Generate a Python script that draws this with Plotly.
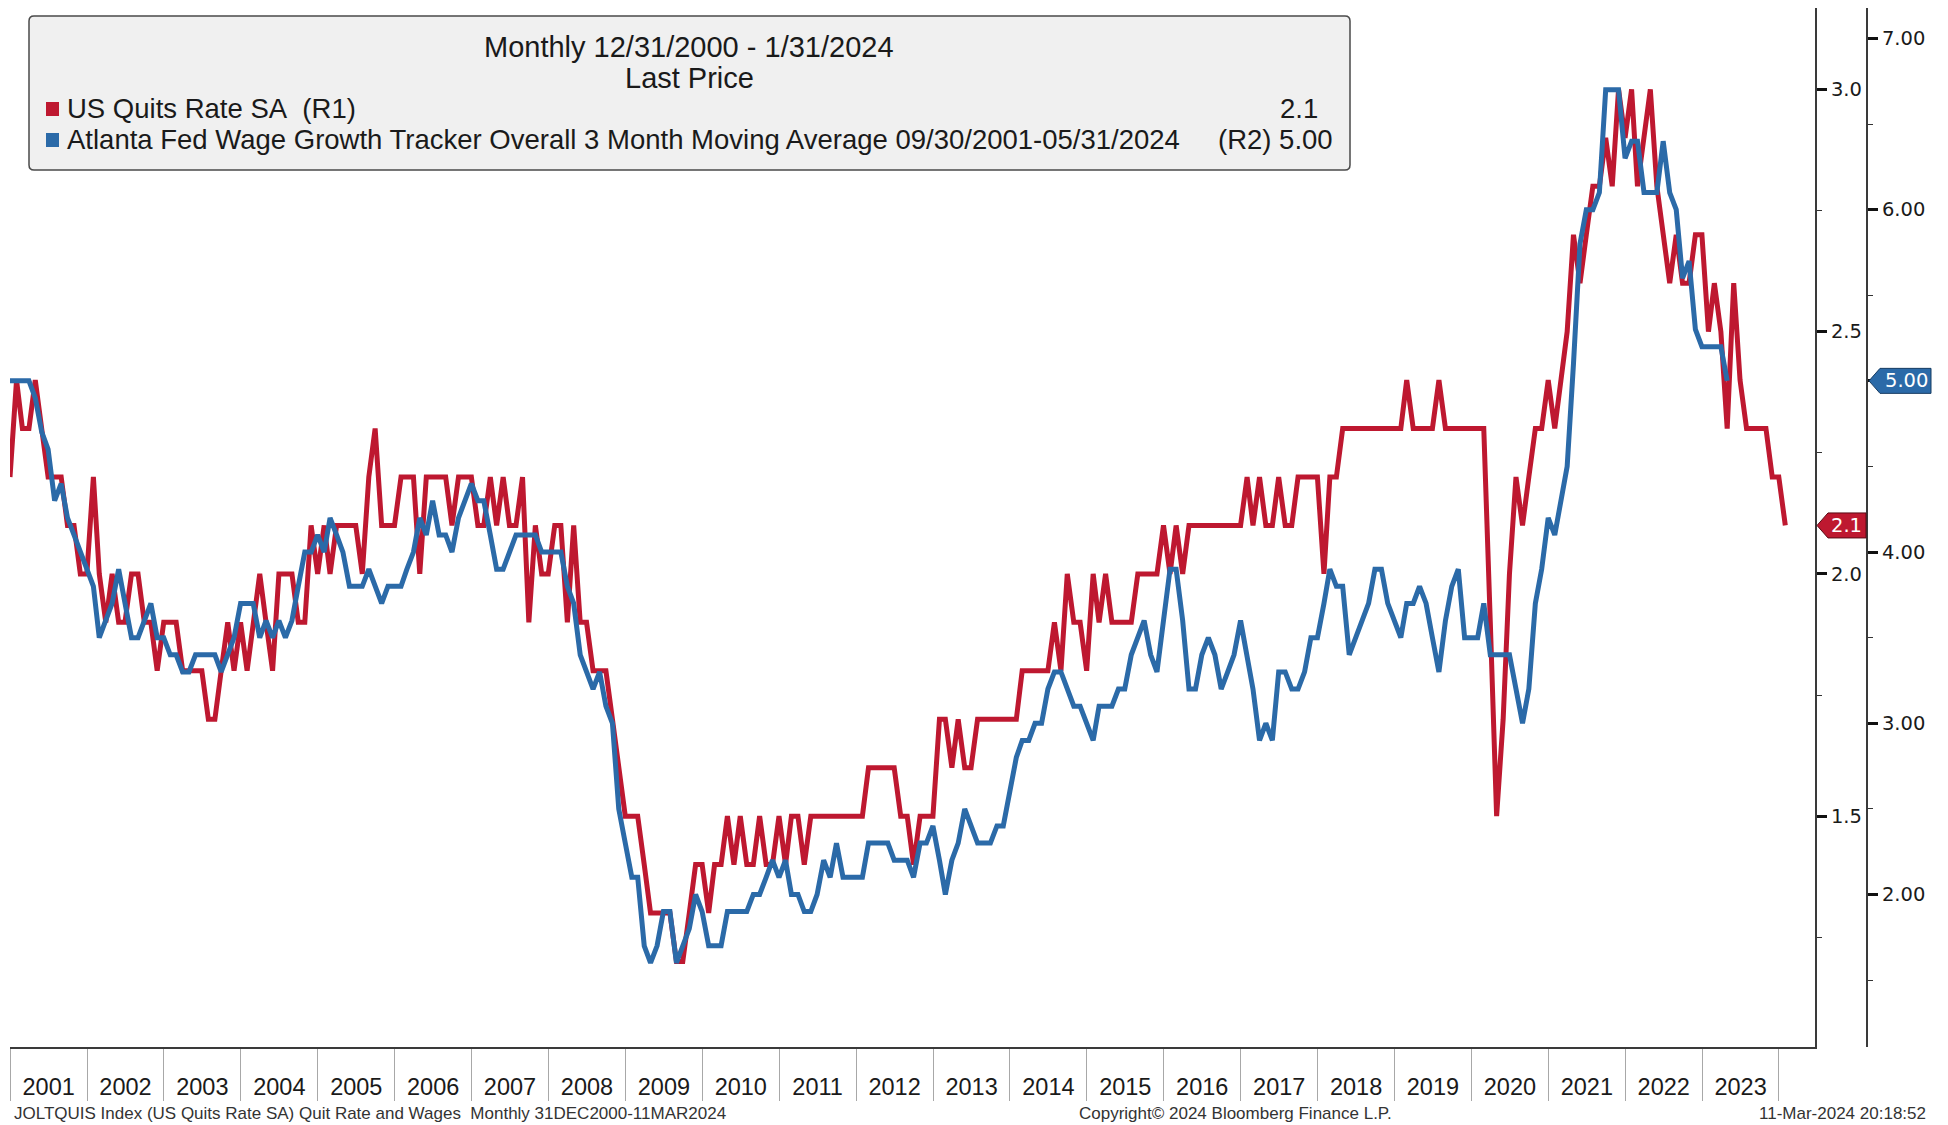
import pandas as pd
import plotly.graph_objects as go

# ---------------- data ----------------
# US Quits Rate SA (R1), monthly, Dec-2000 .. Jan-2024
quits = [
    2.2, 2.4, 2.3, 2.3, 2.4, 2.3, 2.2, 2.2, 2.2, 2.1, 2.1, 2.0, 2.0,   # Dec00-Dec01
    2.2, 2.0, 1.9, 2.0, 1.9, 1.9, 2.0, 2.0, 1.9, 1.9, 1.8, 1.9,        # 2002
    1.9, 1.9, 1.8, 1.8, 1.8, 1.8, 1.7, 1.7, 1.8, 1.9, 1.8, 1.9,        # 2003
    1.8, 1.9, 2.0, 1.9, 1.8, 2.0, 2.0, 2.0, 1.9, 1.9, 2.1, 2.0,        # 2004
    2.1, 2.0, 2.1, 2.1, 2.1, 2.1, 2.0, 2.2, 2.3, 2.1, 2.1, 2.1,        # 2005
    2.2, 2.2, 2.2, 2.0, 2.2, 2.2, 2.2, 2.2, 2.1, 2.2, 2.2, 2.2,        # 2006
    2.1, 2.1, 2.2, 2.1, 2.2, 2.1, 2.1, 2.2, 1.9, 2.1, 2.0, 2.0,        # 2007
    2.1, 2.1, 1.9, 2.1, 1.9, 1.9, 1.8, 1.8, 1.8, 1.7, 1.6, 1.5,        # 2008
    1.5, 1.5, 1.4, 1.3, 1.3, 1.3, 1.3, 1.2, 1.2, 1.3, 1.4, 1.4,        # 2009
    1.3, 1.4, 1.4, 1.5, 1.4, 1.5, 1.4, 1.4, 1.5, 1.4, 1.4, 1.5,        # 2010
    1.4, 1.5, 1.5, 1.4, 1.5, 1.5, 1.5, 1.5, 1.5, 1.5, 1.5, 1.5,        # 2011
    1.5, 1.6, 1.6, 1.6, 1.6, 1.6, 1.5, 1.5, 1.4, 1.5, 1.5, 1.5,        # 2012
    1.7, 1.7, 1.6, 1.7, 1.6, 1.6, 1.7, 1.7, 1.7, 1.7, 1.7, 1.7,        # 2013
    1.7, 1.8, 1.8, 1.8, 1.8, 1.8, 1.9, 1.8, 2.0, 1.9, 1.9, 1.8,        # 2014
    2.0, 1.9, 2.0, 1.9, 1.9, 1.9, 1.9, 2.0, 2.0, 2.0, 2.0, 2.1,        # 2015
    2.0, 2.1, 2.0, 2.1, 2.1, 2.1, 2.1, 2.1, 2.1, 2.1, 2.1, 2.1,        # 2016
    2.2, 2.1, 2.2, 2.1, 2.1, 2.2, 2.1, 2.1, 2.2, 2.2, 2.2, 2.2,        # 2017
    2.0, 2.2, 2.2, 2.3, 2.3, 2.3, 2.3, 2.3, 2.3, 2.3, 2.3, 2.3,        # 2018
    2.3, 2.4, 2.3, 2.3, 2.3, 2.3, 2.4, 2.3, 2.3, 2.3, 2.3, 2.3,        # 2019
    2.3, 2.3, 1.9, 1.5, 1.7, 2.0, 2.2, 2.1, 2.2, 2.3, 2.3, 2.4,        # 2020
    2.3, 2.4, 2.5, 2.7, 2.6, 2.7, 2.8, 2.8, 2.9, 2.8, 3.0, 2.9,        # 2021
    3.0, 2.8, 2.9, 3.0, 2.8, 2.7, 2.6, 2.7, 2.6, 2.6, 2.7, 2.7,        # 2022
    2.5, 2.6, 2.5, 2.3, 2.6, 2.4, 2.3, 2.3, 2.3, 2.3, 2.2, 2.2,        # 2023
    2.1,                                                               # Jan-2024
]

# Atlanta Fed Wage Growth Tracker 3MMA (R2), as plotted (Dec-2000 .. Apr-2023)
wages = [
    5.0, 5.0, 5.0, 5.0, 4.9, 4.7, 4.6, 4.3, 4.4, 4.2, 4.1, 4.0, 3.9,
    3.8, 3.5, 3.6, 3.7, 3.9, 3.7, 3.5, 3.5, 3.6, 3.7, 3.5, 3.5,
    3.4, 3.4, 3.3, 3.3, 3.4, 3.4, 3.4, 3.4, 3.3, 3.4, 3.5, 3.7,
    3.7, 3.7, 3.5, 3.6, 3.5, 3.6, 3.5, 3.6, 3.8, 4.0, 4.0, 4.1,
    4.0, 4.2, 4.1, 4.0, 3.8, 3.8, 3.8, 3.9, 3.8, 3.7, 3.8, 3.8,
    3.8, 3.9, 4.0, 4.2, 4.1, 4.3, 4.1, 4.1, 4.0, 4.2, 4.3, 4.4,
    4.3, 4.3, 4.1, 3.9, 3.9, 4.0, 4.1, 4.1, 4.1, 4.1, 4.0, 4.0,
    4.0, 4.0, 3.8, 3.7, 3.4, 3.3, 3.2, 3.3, 3.1, 3.0, 2.5, 2.3,
    2.1, 2.1, 1.7, 1.6, 1.7, 1.9, 1.9, 1.6, 1.7, 1.8, 2.0, 1.9,
    1.7, 1.7, 1.7, 1.9, 1.9, 1.9, 1.9, 2.0, 2.0, 2.1, 2.2, 2.1,
    2.2, 2.0, 2.0, 1.9, 1.9, 2.0, 2.2, 2.1, 2.3, 2.1, 2.1, 2.1,
    2.1, 2.3, 2.3, 2.3, 2.3, 2.2, 2.2, 2.2, 2.1, 2.3, 2.3, 2.4,
    2.2, 2.0, 2.2, 2.3, 2.5, 2.4, 2.3, 2.3, 2.3, 2.4, 2.4, 2.6,
    2.8, 2.9, 2.9, 3.0, 3.0, 3.2, 3.3, 3.3, 3.2, 3.1, 3.1, 3.0,
    2.9, 3.1, 3.1, 3.1, 3.2, 3.2, 3.4, 3.5, 3.6, 3.4, 3.3, 3.6,
    3.9, 3.9, 3.6, 3.2, 3.2, 3.4, 3.5, 3.4, 3.2, 3.3, 3.4, 3.6,
    3.4, 3.2, 2.9, 3.0, 2.9, 3.3, 3.3, 3.2, 3.2, 3.3, 3.5, 3.5,
    3.7, 3.9, 3.8, 3.8, 3.4, 3.5, 3.6, 3.7, 3.9, 3.9, 3.7, 3.6,
    3.5, 3.7, 3.7, 3.8, 3.7, 3.5, 3.3, 3.6, 3.8, 3.9, 3.5, 3.5,
    3.5, 3.7, 3.4, 3.4, 3.4, 3.4, 3.2, 3.0, 3.2, 3.7, 3.9, 4.2,
    4.1, 4.3, 4.5, 5.1, 5.8, 6.0, 6.0, 6.1, 6.7, 6.7, 6.7, 6.3,
    6.4, 6.4, 6.1, 6.1, 6.1, 6.4, 6.1, 6.0, 5.6, 5.7, 5.3, 5.2,
    5.2, 5.2, 5.2, 5.0,
]

r1_ticks = [1.5, 2.0, 2.5, 3.0]
r1_minor = [1.25, 1.75, 2.25, 2.75]
r2_ticks = [2.0, 3.0, 4.0, 5.0, 6.0, 7.0]
r2_minor = [1.5, 2.5, 3.5, 4.5, 5.5, 6.5]

name_q = "US Quits Rate SA\u00a0\u00a0(R1)"
name_w = "Atlanta Fed Wage Growth Tracker Overall 3 Month Moving Average 09/30/2001-05/31/2024"
last_q = "2.1"
last_w = "5.00"


def month_ends(n):
    ms = pd.date_range("2001-01-01", periods=n, freq="MS") - pd.Timedelta(days=1)
    return [d.strftime("%Y-%m-%d") for d in ms]


dates_q = month_ends(len(quits))
dates_w = month_ends(len(wages))

# ---------------- geometry (page pixels; the page body adds an 8px margin) ----------------
OFF = 8
W, H = 1948 - OFF, 1125 - OFF
# page coordinates of plot frame
L, RAX1, RAX2, TOP, BOT = 10, 1815, 1867, 8, 1047
PW, PH = RAX2 - L, BOT - TOP


def fx(px):  # page x -> paper fraction
    return (px - L) / PW


def fy(py):  # page y -> paper fraction
    return (BOT - py) / PH


RED = "#be1830"
BLUE = "#2b6aa8"
TXT = "#1a1a1a"
FONT_N = "Liberation Sans, Arial, sans-serif"
FONT_V = "DejaVu Sans, Verdana, sans-serif"

fig = go.Figure()
fig.add_trace(go.Scatter(x=dates_q, y=quits, mode="lines", yaxis="y",
                         line=dict(color=RED, width=5), name=name_q,
                         showlegend=False))
fig.add_trace(go.Scatter(x=dates_w, y=wages, mode="lines", yaxis="y2",
                         line=dict(color=BLUE, width=5), name=name_w,
                         showlegend=False))

fig.update_layout(
    template="none",
    width=W, height=H,
    margin=dict(l=L - OFF, r=(W + OFF) - RAX2, t=TOP - OFF, b=(H + OFF) - BOT,
                autoexpand=False),
    paper_bgcolor="white", plot_bgcolor="white",
    showlegend=False,
    xaxis=dict(
        domain=[0, fx(RAX1)], type="date",
        range=["2000-12-31", "2024-06-20"],
        showgrid=False, zeroline=False,
        showline=True, linecolor="#3a3a3a", linewidth=2,
        ticks="outside", ticklen=52, tickwidth=1, tickcolor="#a8a8a8",
        dtick="M12", tick0="2001-01-01", ticklabelmode="period",
        tickformat="%Y", ticklabelstandoff=-34,
        tickfont=dict(family=FONT_N, size=23.5, color=TXT),
        automargin=False,
    ),
    yaxis=dict(
        side="right", anchor="x", range=[1.0235, 3.168],
        tickmode="array", tickvals=r1_ticks, tickformat=".1f",
        ticks="outside", ticklen=10, tickwidth=2.5, tickcolor="#111",
        minor=dict(tickmode="array", tickvals=r1_minor, ticks="outside",
                   ticklen=5, tickwidth=1.2, tickcolor="#333", showgrid=False),
        showline=True, linecolor="#3a3a3a", linewidth=2,
        showgrid=False, zeroline=False,
        tickfont=dict(family=FONT_V, size=19.5, color=TXT),
        automargin=False,
    ),
    yaxis2=dict(
        side="right", overlaying="y", anchor="free", position=1.0,
        range=[1.109, 7.178],
        tickmode="array", tickvals=r2_ticks, tickformat=".2f",
        ticks="outside", ticklen=10, tickwidth=2.5, tickcolor="#111",
        minor=dict(tickmode="array", tickvals=r2_minor, ticks="outside",
                   ticklen=5, tickwidth=1.2, tickcolor="#333", showgrid=False),
        showline=True, linecolor="#3a3a3a", linewidth=2,
        showgrid=False, zeroline=False,
        tickfont=dict(family=FONT_V, size=19.5, color=TXT),
        automargin=False,
    ),
)

shapes = []
# legend box with rounded corners
bx0, bx1, by0, by1, rr = 29, 1350, 16, 170, 5
path = (f"M {fx(bx0 + rr)},{fy(by0)} L {fx(bx1 - rr)},{fy(by0)} "
        f"Q {fx(bx1)},{fy(by0)} {fx(bx1)},{fy(by0 + rr)} "
        f"L {fx(bx1)},{fy(by1 - rr)} Q {fx(bx1)},{fy(by1)} {fx(bx1 - rr)},{fy(by1)} "
        f"L {fx(bx0 + rr)},{fy(by1)} Q {fx(bx0)},{fy(by1)} {fx(bx0)},{fy(by1 - rr)} "
        f"L {fx(bx0)},{fy(by0 + rr)} Q {fx(bx0)},{fy(by0)} {fx(bx0 + rr)},{fy(by0)} Z")
shapes.append(dict(type="path", xref="paper", yref="paper", path=path,
                   fillcolor="#f0f0f0", line=dict(color="#4a4a4a", width=1.5),
                   layer="above"))
# colour squares
for (y0, y1, c) in [(102, 116, RED), (133, 147, BLUE)]:
    shapes.append(dict(type="rect", xref="paper", yref="paper",
                       x0=fx(46), x1=fx(59), y0=fy(y1), y1=fy(y0),
                       fillcolor=c, line=dict(width=0), layer="above"))
# last-value tags
shapes.append(dict(type="path", xref="paper", yref="y", xsizemode="pixel",
                   ysizemode="pixel", xanchor=fx(RAX1), yanchor=quits[-1],
                   path="M 2,0 L 13,12.5 L 51,12.5 L 51,-12.5 L 13,-12.5 Z",
                   fillcolor=RED, line=dict(color="#5a0a14", width=1),
                   layer="above"))
shapes.append(dict(type="path", xref="paper", yref="y2", xsizemode="pixel",
                   ysizemode="pixel", xanchor=fx(RAX2), yanchor=wages[-1],
                   path="M 2,0 L 13,12.5 L 64,12.5 L 64,-12.5 L 13,-12.5 Z",
                   fillcolor=BLUE, line=dict(color="#173c63", width=1),
                   layer="above"))
fig.update_layout(shapes=shapes)

ann = []
TF = dict(family=FONT_N, size=29, color=TXT)
LF = dict(family=FONT_N, size=27.5, color=TXT)
ann.append(dict(text="Monthly 12/31/2000 - 1/31/2024", x=fx(689), y=fy(47)))
ann.append(dict(text="Last Price", x=fx(689), y=fy(78)))
for a in ann:
    a.update(xref="paper", yref="paper", xanchor="center", yanchor="middle",
             showarrow=False, font=TF)
for txt, xx, yy, xa in [(name_q, 65, 109, "left"), (name_w, 65, 140, "left"),
                        (last_q, 1320, 109, "right"),
                        ("(R2) " + last_w, 1335, 140, "right")]:
    ann.append(dict(text=txt, x=fx(xx), y=fy(yy), xref="paper", yref="paper",
                    xanchor=xa, yanchor="middle", showarrow=False, font=LF))
# tag texts
ann.append(dict(text=last_q, x=fx(RAX1 + 31), y=quits[-1], xref="paper", yref="y",
                xanchor="center", yanchor="middle", showarrow=False,
                font=dict(family=FONT_V, size=19.5, color="white")))
ann.append(dict(text=last_w, x=fx(RAX2 + 39), y=wages[-1], xref="paper", yref="y2",
                xanchor="center", yanchor="middle", showarrow=False,
                font=dict(family=FONT_V, size=19.5, color="white")))
# footer
FF = dict(family=FONT_N, size=17, color="#333")
ann.append(dict(text="JOLTQUIS Index (US Quits Rate SA) Quit Rate and Wages\u00a0\u00a0Monthly 31DEC2000-11MAR2024",
                x=fx(12), y=fy(1113), xanchor="left"))
ann.append(dict(text="Copyright\u00a9 2024 Bloomberg Finance L.P.", x=fx(1235), y=fy(1113),
                xanchor="center"))
ann.append(dict(text="11-Mar-2024 20:18:52", x=fx(1928), y=fy(1113), xanchor="right"))
for a in ann[-3:]:
    a.update(xref="paper", yref="paper", yanchor="middle", showarrow=False, font=FF)
fig.update_layout(annotations=ann)

fig.write_html("out.html")
